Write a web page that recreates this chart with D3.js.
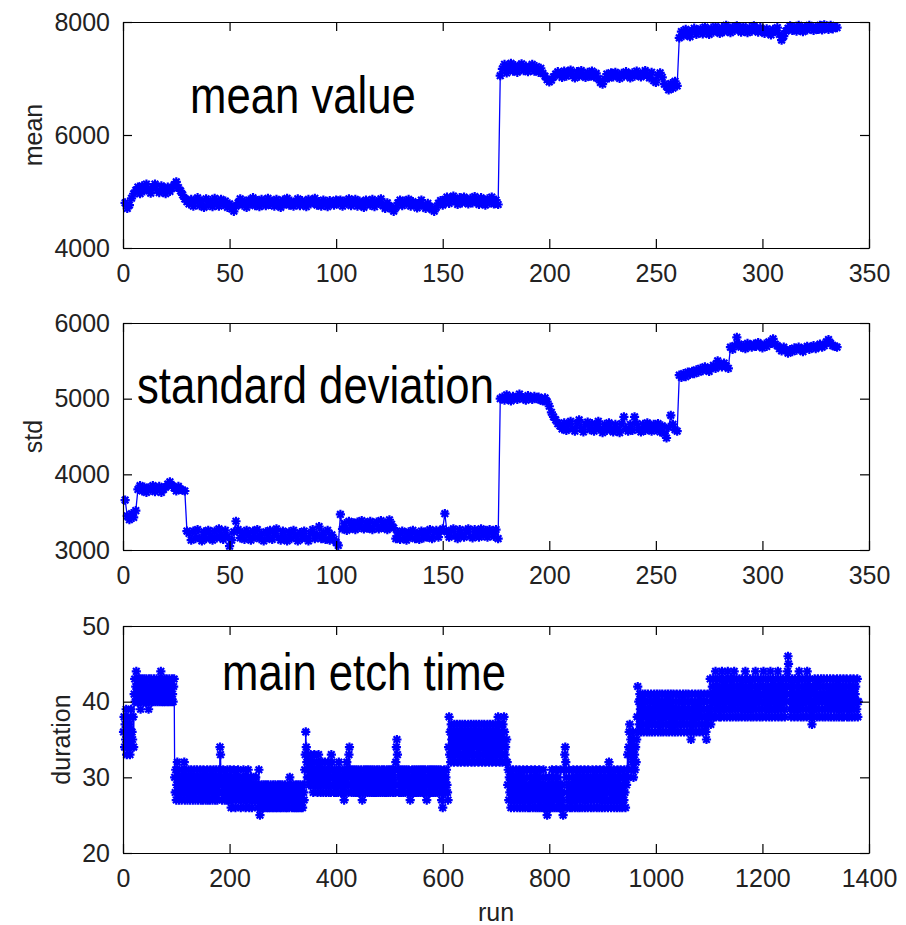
<!DOCTYPE html>
<html><head><meta charset="utf-8">
<script src="https://cdn.jsdelivr.net/npm/d3@7"></script>
<style>body{margin:0;background:#fff}</style>
</head><body><svg id="c" width="906" height="925"></svg>
<script>
// ---------- data ----------
const meanValues = [
4800,4700,4760,4880,4960,5020,5080,4960,5100,5010,5130,5040,4970,5080,5130,5020,4980,5100,5020,4960,5080,5000,5060,5120,5170,5070,5010,4940,4870,4820,
4780,4860,4740,4820,4890,4750,4830,4720,4870,4760,4840,4730,4880,4790,4740,4860,4770,4830,4720,4780,
4690,4650,4740,4800,4870,4760,4830,4720,4850,4780,4890,4750,4840,4730,4860,4790,4750,4880,4770,4830,
4740,4860,4790,4720,4850,4780,4880,4760,4830,4740,4800,4870,4750,4840,4790,4730,4860,4780,4830,4880,
4760,4820,4740,4850,4790,4730,4840,4800,4760,4850,
4780,4850,4740,4830,4790,4870,4750,4810,4860,4740,4830,4780,4720,4850,4790,4760,4860,4730,4820,4790,
4870,4750,4700,4800,4740,4690,4650,4720,4800,4850,4750,4830,4780,4860,4740,4820,4770,4710,4800,4850,
4740,4700,4790,4730,4680,4650,4720,4790,4840,4760,4860,4900,4790,4870,4920,4820,4770,4890,4800,4900,
4840,4780,4880,4800,4910,4830,4770,4890,4810,4760,4870,4800,4900,4780,4850,4770,
7050,7170,7250,7100,7200,7270,7130,7230,7110,7210,7260,7140,7220,7120,7190,7250,7130,7210,7110,7180,7090,7040,6980,6940,
6970,7030,7080,7120,7060,7020,7130,7040,7110,7150,7050,7010,7120,7040,7140,7070,7020,7110,7040,7130,
7030,7090,7000,6930,6900,6990,7080,7010,7100,7030,7110,7050,7000,7090,7040,7120,7060,7010,7100,7040,
7130,7070,7030,7100,7140,7050,7010,7110,6960,6930,7060,7100,7020,6900,6860,6800,6910,6830,6950,6870,
7720,7830,7760,7870,7790,7740,7850,7890,7780,7820,7880,7790,7910,7830,7780,7890,7820,7920,7860,7800,
7900,7830,7940,7860,7810,7910,7850,7930,7870,7820,7920,7860,7810,7900,7840,7930,7880,7820,7900,7850,
7800,7880,7820,7770,7870,7830,7900,7780,7680,7750,7840,7890,7930,7850,7910,7840,7940,7880,7830,7920,
7860,7940,7890,7850,7920,7870,7940,7860,7950,7900,7870,7940,7880,7920,7900
];
const stdValues = [
3660,3450,3400,3480,3430,3520,3800,3850,3780,3830,3760,3820,3790,3850,3770,3810,3840,3760,3800,3830,3870,3900,3850,3820,3780,3840,3800,3790,3780,3250,
3220,3130,3250,3150,3270,3160,3120,3240,3150,3260,3180,3130,3250,3160,3280,3200,3140,3260,3180,3050,
3130,3240,3380,3270,3160,3230,3140,3260,3190,3130,3250,3170,3270,3150,3220,3120,3240,3160,3260,3140,
3220,3280,3170,3130,3250,3160,3120,3240,3150,3260,3180,3120,3230,3150,3250,3160,3120,3220,3270,3150,
3200,3310,3150,3230,3140,3260,3130,3200,3140,3100,
3060,3470,3280,3350,3260,3380,3290,3360,3270,3370,3300,3390,3280,3360,3290,3380,3270,3350,3370,3280,3390,3300,3360,3270,3400,3340,3290,
3150,3230,3140,3250,3160,3130,3240,3170,3260,3150,3220,3140,3250,3160,3240,3170,3270,3150,3230,3260,
3170,3250,3280,3480,3240,3170,3260,3280,3190,3150,3270,3200,3170,3260,3280,3180,3160,3270,3240,3170,
3280,3190,3260,3170,3270,3230,3180,3270,3150,
5000,5020,4980,5050,5000,4970,5030,5010,4990,5060,5020,5000,4980,5040,5010,4990,5030,5000,5020,4980,4970,5010,4960,4900,
4820,4760,4720,4670,4640,4600,4680,4580,4660,4700,4600,4570,4670,4720,4610,4560,4660,4690,4590,4670,
4570,4650,4700,4600,4550,4660,4580,4680,4600,4560,4660,4590,4550,4670,4760,4600,4570,4660,4580,4760,
4670,4590,4560,4660,4580,4680,4600,4570,4660,4590,4670,4560,4640,4540,4480,4620,4780,4660,4590,4570,
5310,5280,5330,5290,5350,5320,5360,5330,5380,5350,5400,5370,5420,5390,5360,5410,5440,5400,5500,5450,5420,5470,5430,5400,
5680,5650,5700,5810,5720,5680,5700,5660,5730,5700,5680,5720,5690,5740,5700,5670,5720,5690,5750,5730,
5790,5720,5700,5660,5630,5680,5640,5600,5650,5620,5670,5640,5680,5650,5620,5670,5690,5650,5680,5700,
5660,5690,5720,5680,5700,5750,5780,5730,5700,5690,5680
];
const durationValues = [
36,38,34,37,35,39,33,36,38,34,35,37,33,36,39,34,36,35,38,34,
41,43,40,42,44,41,40,43,42,40,41,43,39,42,40,43,41,42,40,43,
42,40,41,43,40,42,41,39,43,40,42,41,43,40,42,41,40,43,42,41,
40,42,43,41,40,42,41,43,40,42,44,41,40,43,42,40,41,43,40,42,
41,43,40,42,41,40,43,42,41,40,42,43,41,40,42,43,
30,28,31,27,29,32,28,30,27,31,29,28,30,27,31,29,28,30,32,27,
29,31,28,30,27,29,31,28,30,27,29,31,28,30,27,30,28,31,29,27,
30,28,31,29,27,30,28,29,31,27,28,30,29,27,31,28,30,29,27,30,
28,31,27,29,30,28,27,31,29,28,30,27,29,31,28,30,27,29,31,28,
27,30,28,31,29,34,33,30,28,27,29,31,28,30,27,29,30,28,27,31,
28,30,27,29,31,28,26,30,28,27,29,31,28,30,26,29,27,30,28,31,
27,29,30,28,26,29,27,30,28,31,27,29,30,26,28,30,27,29,31,28,
26,29,27,30,28,26,29,27,30,28,29,27,30,28,
27,29,26,28,31,27,25,28,26,29,27,28,26,29,27,26,28,29,27,26,
28,29,26,27,28,26,29,27,28,26,27,29,26,28,27,29,26,28,27,26,
29,27,28,26,29,27,26,28,29,27,26,28,27,29,26,28,27,26,29,28,
27,26,30,28,27,29,26,28,27,29,26,28,27,26,29,28,26,27,29,26,
28,27,29,26,28,27,26,29,28,27,
31,33,36,34,32,30,33,31,29,32,30,33,29,31,32,30,28,31,33,29,
31,29,32,30,28,31,33,29,30,32,28,31,29,32,30,28,31,29,32,30,
28,31,30,29,32,28,30,31,29,28,33,32,31,29,30,28,31,29,30,28,
31,29,30,28,32,30,29,31,28,30,29,31,28,30,27,29,31,28,30,32,
29,31,28,33,34,31,29,30,28,31,29,30,28,31,29,30,28,31,30,29,
28,31,30,29,28,30,31,29,27,30,28,31,29,30,28,31,29,30,28,31,
29,30,28,31,29,30,28,31,30,29,28,31,29,30,28,30,31,29,28,30,
31,29,28,30,29,31,28,30,29,31,28,30,29,28,31,30,29,28,31,30,
29,28,31,30,29,31,28,30,29,31,28,32,34,35,33,31,29,28,30,31,
29,28,30,31,29,28,30,31,29,28,30,31,29,30,28,31,29,30,27,29,
30,28,31,29,30,28,31,29,30,28,31,29,30,28,31,29,30,28,31,29,
30,28,31,29,28,30,31,29,28,27,30,31,29,28,30,31,29,28,30,31,
29,28,30,31,29,28,30,31,29,28,30,31,29,28,30,31,29,27,30,26,
28,30,31,29,28,30,31,29,28,27,
34,38,33,36,32,37,35,33,36,34,32,37,35,33,36,34,37,32,35,36,
33,37,34,32,36,35,37,33,34,36,32,37,35,33,36,34,32,37,35,33,
36,34,37,32,35,36,33,37,34,32,36,35,37,33,34,36,32,37,35,33,
36,34,37,32,35,33,36,37,34,32,36,35,33,37,34,36,32,35,37,33,
36,34,32,37,35,33,36,34,37,32,35,36,33,38,34,37,32,35,33,36,
34,32,37,35,38,36,33,34,32,35,
32,29,31,27,30,28,31,26,29,30,27,31,28,26,30,29,27,31,28,26,
30,27,29,31,26,28,30,27,29,26,31,28,27,30,26,29,28,31,27,26,
29,27,30,26,28,31,27,29,26,30,28,27,31,26,29,28,30,26,27,29,
31,26,28,30,27,26,29,28,31,26,27,29,30,26,28,25,27,29,26,30,
28,26,29,27,31,26,28,30,27,26,29,28,31,26,27,30,28,26,29,27,
31,26,28,29,27,25,26,31,33,34,32,30,28,26,29,27,31,28,26,29,
27,30,26,28,31,27,29,26,30,28,27,31,26,29,28,30,26,27,31,28,
29,26,30,27,28,31,26,29,27,30,28,26,31,27,29,28,30,26,27,29,
31,28,26,30,27,29,28,31,26,27,30,28,29,26,31,27,28,30,26,29,
27,31,28,26,30,29,27,28,31,26,30,32,29,27,31,26,28,30,27,29,
31,26,28,30,27,29,26,31,28,27,30,26,29,31,27,28,26,30,29,27,
31,28,26,30,29,
31,33,30,34,36,37,33,35,31,34,32,36,30,35,33,31,34,32,35,
38,42,36,40,37,41,39,36,40,38,41,37,36,40,39,41,37,38,36,40,
41,37,39,36,40,38,41,37,36,39,40,38,41,36,37,40,39,41,38,36,
40,37,41,39,36,38,40,41,37,36,39,40,38,41,37,36,40,39,41,38,
36,40,37,41,39,38,36,40,41,37,39,36,38,40,41,37,36,39,40,38,
41,37,36,39,40,38,41,37,36,40,39,41,38,37,36,40,41,39,37,38,
36,35,40,41,37,39,36,38,40,41,37,36,39,40,38,41,37,36,40,39,
41,38,37,36,40,39,41,37,38,36,35,40,41,37,39,38,
39,43,37,41,38,42,40,43,38,41,39,44,38,42,40,43,39,41,38,43,
40,38,42,44,39,41,43,38,40,42,39,43,38,41,44,40,39,42,38,43,
41,39,43,38,40,42,44,39,41,38,43,40,42,39,38,41,43,40,39,42,
38,43,41,39,42,40,38,44,41,39,43,38,40,42,39,41,43,38,40,42,
39,43,38,41,40,42,44,39,38,41,43,40,39,42,38,41,43,40,39,38,
42,44,40,39,41,43,38,40,42,39,43,41,38,40,44,39,42,38,41,43,
40,39,42,38,43,41,40,39,44,38,42,40,41,43,39,38,42,40,43,41,
39,38,42,43,40,41,44,46,45,43,41,39,42,38,40,43,41,39,42,38,
43,40,39,41,42,38,43,40,44,39,41,38,42,40,43,39,38,41,42,40,
43,39,38,44,41,40,42,39,43,38,41,40,37,39,42,41,38,43,40,39,
42,38,41,43,40,39,38,42,41,43,39,40,38,42,43,41,39,38,40,42,
43,39,41,38,40,42,43,39,38,41,42,40,43,38,39,41,42,40,38,43,
39,41,42,38,40,43,39,41,38,42,40,43,38,39,41,42,40,43,38,39,
41,42,38,40,43,39,41,38,42,40,43,39,38,41,42,40,39,43,38,40
];
const runTicksShort = [0,50,100,150,200,250,300,350];
const runTicksLong = [0,200,400,600,800,1000,1200,1400];
const meanTicks = [4000,6000,8000];
const stdTicks = [3000,4000,5000,6000];
const durationTicks = [20,30,40,50];
const titles = ["mean value","standard deviation","main etch time"];
const yLabels = ["mean","std","duration"];
const xLabel = "run";

// ---------- layout ----------
const L = 123, R = 869;
const panels = [
  {data: meanValues, xDom:[0,350], yDom:[4000,8000], xt:runTicksShort, yt:meanTicks, top:22, bottom:248,
   title:titles[0], tx:190, ty:113, yl:yLabels[0], ylx:42},
  {data: stdValues, xDom:[0,350], yDom:[3000,6000], xt:runTicksShort, yt:stdTicks, top:323, bottom:550,
   title:titles[1], tx:137, ty:403, yl:yLabels[1], ylx:42},
  {data: durationValues, xDom:[0,1400], yDom:[20,50], xt:runTicksLong, yt:durationTicks, top:626, bottom:853,
   title:titles[2], tx:222, ty:690, yl:yLabels[2], ylx:70}
];

const svg = d3.select('#c');
const tickFont = "'Liberation Sans', Arial, sans-serif";
const blue = '#0000ff';
const s = 4.6, t = s * 0.72;
const star = `M${-s},0H${s}M0,${-s}V${s}M${-t},${-t}L${t},${t}M${-t},${t}L${t},${-t}`;

panels.forEach(p => {
  const x = d3.scaleLinear().domain(p.xDom).range([L, R]);
  const y = d3.scaleLinear().domain(p.yDom).range([p.bottom, p.top]);
  const g = svg.append('g');

  // title text (condensed like Arial Narrow)
  g.append('text').attr('transform', `translate(${p.tx},${p.ty}) scale(0.84,1)`)
    .attr('font-family', "'Liberation Sans', Arial, sans-serif")
    .attr('font-size', 52).attr('fill', '#000').text(p.title);

  // data line + markers
  const line = d3.line().x((d, i) => x(i + 1)).y(d => y(d));
  g.append('path').datum(p.data).attr('d', line)
    .attr('fill', 'none').attr('stroke', blue).attr('stroke-width', 1.3);
  g.append('g').selectAll('path').data(p.data).join('path')
    .attr('transform', (d, i) => `translate(${x(i + 1)},${y(d)})`)
    .attr('d', star).attr('fill', 'none').attr('stroke', blue).attr('stroke-width', 2.2);

  // axes (ticks inward on all four sides)
  const styleAxis = sel => {
    sel.attr('font-family', tickFont).attr('font-size', 25);
    sel.selectAll('.domain').attr('stroke', '#000').attr('stroke-width', 1.2);
    sel.selectAll('.tick line').attr('stroke', '#000').attr('stroke-width', 1.2);
    sel.selectAll('.tick text').attr('fill', '#222');
  };
  g.append('g').attr('transform', `translate(0,${p.bottom})`)
    .call(d3.axisBottom(x).tickValues(p.xt).tickSize(-9).tickSizeOuter(0).tickPadding(16).tickFormat(d3.format('d')))
    .call(styleAxis);
  g.append('g').attr('transform', `translate(0,${p.top})`)
    .call(d3.axisTop(x).tickValues(p.xt).tickSize(-9).tickSizeOuter(0).tickFormat(''))
    .call(styleAxis);
  g.append('g').attr('transform', `translate(${L},0)`)
    .call(d3.axisLeft(y).tickValues(p.yt).tickSize(-9).tickSizeOuter(0).tickPadding(13).tickFormat(d3.format('d')))
    .call(styleAxis);
  g.append('g').attr('transform', `translate(${R},0)`)
    .call(d3.axisRight(y).tickValues(p.yt).tickSize(-9).tickSizeOuter(0).tickFormat(''))
    .call(styleAxis);

  // y label
  g.append('text').attr('transform', `translate(${p.ylx},${(p.top + p.bottom) / 2}) rotate(-90)`)
    .attr('text-anchor', 'middle').attr('font-family', tickFont).attr('font-size', 25)
    .attr('fill', '#222').text(p.yl);
});

svg.append('text').attr('x', (L + R) / 2).attr('y', 921).attr('text-anchor', 'middle')
  .attr('font-family', tickFont).attr('font-size', 25).attr('fill', '#222').text(xLabel);
</script>
</body></html>
